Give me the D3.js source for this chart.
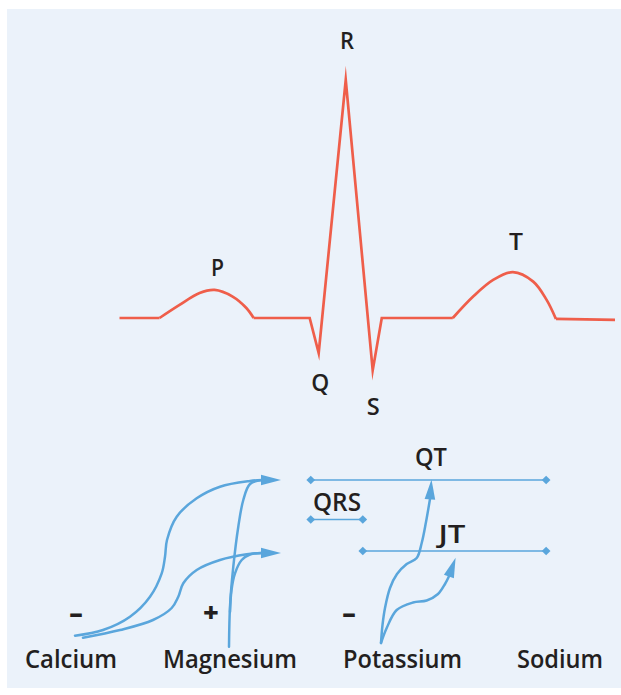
<!DOCTYPE html>
<html><head><meta charset="utf-8">
<script src="https://cdn.jsdelivr.net/npm/d3@7"></script>
<style>html,body{margin:0;padding:0;background:#fff;} svg{display:block;}</style>
</head><body>
<script>
// ---------- DATA ----------
// ECG trace: time (arbitrary units 0..100) and relative voltage (R peak = 1)
const leadT  = [0, 8.08];
const leadV  = [0, 0];
const pWaveT = [8.08, 12.12, 16.16, 19.19, 22.83, 25.6, 27.07];
const pWaveV = [0, 0.055, 0.105, 0.118, 0.09, 0.042, 0];
const qrsT   = [27.07, 38.38, 40.2, 45.66, 51.1, 52.93, 67.27];
const qrsV   = [0, 0, -0.147, 1.0, -0.22, 0, 0];
const tWaveT = [67.27, 71.37, 75.41, 79.4, 83.5, 86.2, 88.08];
const tWaveV = [0, 0.09, 0.16, 0.193, 0.153, 0.076, -0.004];
const tailT  = [88.08, 100];
const tailV  = [-0.004, -0.008];

const waveNames = ["P", "Q", "R", "S", "T"];
const waveLabelT = [19.8, 40.5, 45.9, 51.2, 80.0];

// intervals (same time units)
const intervalNames = ["QT", "QRS", "JT"];
const intervalStart = [38.6, 38.6, 49.1];
const intervalEnd   = [86.1, 49.1, 86.1];

// electrolytes and their effect sign
const electrolytes = ["Calcium", "Magnesium", "Potassium", "Sodium"];
const effectSign   = ["\u2013", "+", "\u2013", ""];

// ---------- LAYOUT ----------
const W = 621, H = 695;
const svg = d3.select("body").append("svg").attr("width", W).attr("height", H);
svg.append("rect").attr("x", 7).attr("y", 9).attr("width", 614).attr("height", 679).attr("fill", "#EBF2FA");

const FONT = "'Open Sans', 'Noto Sans', sans-serif";
const TXT = "#231F20";
const RED = "#EF5E4A";
const BLUE = "#5AA6DC";

const x = d3.scaleLinear().domain([0, 100]).range([119.5, 615]);
const y = d3.scaleLinear().domain([0, 1]).range([318, 80]);

const zip = (a, b) => a.map((d, i) => [d, b[i]]);
const lineLin = d3.line().x(d => x(d[0])).y(d => y(d[1]));
const lineCurve = d3.line().x(d => x(d[0])).y(d => y(d[1])).curve(d3.curveCatmullRom.alpha(0.5));

const ecg = svg.append("g").attr("fill", "none").attr("stroke", RED)
  .attr("stroke-width", 2.7).attr("stroke-linejoin", "miter").attr("stroke-miterlimit", 20);
[[leadT, leadV, lineLin], [pWaveT, pWaveV, lineCurve], [qrsT, qrsV, lineLin],
 [tWaveT, tWaveV, lineCurve], [tailT, tailV, lineLin]].forEach(([t, v, gen]) => {
  ecg.append("path").attr("d", gen(zip(t, v)));
});

// wave labels
const waveLabelBaseline = [276, 391, 49, 415, 250];
const waveLabelW = [13, 18, 14, 13, 14];
svg.append("g").selectAll("text").data(waveNames).join("text")
  .attr("x", (d, i) => x(waveLabelT[i]))
  .attr("y", (d, i) => waveLabelBaseline[i])
  .attr("text-anchor", "middle")
  .attr("textLength", (d, i) => waveLabelW[i]).attr("lengthAdjust", "spacingAndGlyphs")
  .attr("font-family", FONT).attr("font-weight", 600).attr("font-size", 24)
  .attr("fill", TXT).text(d => d);

// intervals
const rowY = [480, 519.5, 551];
const intLabelX = [431, 337, 452];
const intLabelY = [466, 511, 543];
const intLabelW = [32, 48, 27];
const ig = svg.append("g");
intervalNames.forEach((n, i) => {
  ig.append("line").attr("x1", x(intervalStart[i])).attr("x2", x(intervalEnd[i]))
    .attr("y1", rowY[i]).attr("y2", rowY[i]).attr("stroke", BLUE).attr("stroke-width", 1.6);
  [intervalStart[i], intervalEnd[i]].forEach(t => {
    ig.append("path").attr("d", d3.symbol(d3.symbolSquare, 38)())
      .attr("transform", `translate(${x(t)},${rowY[i]}) rotate(45)`).attr("fill", BLUE);
  });
  ig.append("text").attr("x", intLabelX[i]).attr("y", intLabelY[i]).attr("text-anchor", "middle")
    .attr("textLength", intLabelW[i]).attr("lengthAdjust", "spacingAndGlyphs")
    .attr("font-family", FONT).attr("font-weight", 600).attr("font-size", 25)
    .attr("fill", TXT).text(n);
});

// electrolyte labels
const elX = [71, 230, 402.5, 560];
const elW = [92, 134, 119, 86];
svg.append("g").selectAll("text").data(electrolytes).join("text")
  .attr("x", (d, i) => elX[i]).attr("y", 668).attr("text-anchor", "middle")
  .attr("textLength", (d, i) => elW[i]).attr("lengthAdjust", "spacingAndGlyphs")
  .attr("font-family", FONT).attr("font-weight", 600).attr("font-size", 25.5)
  .attr("fill", TXT).text(d => d);
const signX = [76, 211, 349];
svg.append("g").selectAll("text").data(effectSign.filter(s => s)).join("text")
  .attr("x", (d, i) => signX[i]).attr("y", 622).attr("text-anchor", "middle")
  .attr("font-family", FONT).attr("font-weight", 800).attr("font-size", 27)
  .attr("fill", TXT).text(d => d);

// ---------- effect arrows (annotation geometry, page units) ----------
const px = d3.scaleIdentity(), py = d3.scaleIdentity();
const aLine = d3.line().x(d => px(d[0])).y(d => py(d[1])).curve(d3.curveCatmullRom.alpha(0.5));
const arrows = [
  // Calcium (upper)
  [[75,635.7],[103,630],[130,616.7],[150,596.7],[161.7,573.3],[165,556.7],[167,540],[176.7,516.7],[196.7,498.3],[220,486.7],[250,481],[262,480]],
  // Calcium (lower)
  [[83,637.7],[120,630],[153,620],[171.7,608],[178.3,596.7],[183.3,583.3],[196.7,570],[220,560],[246.7,554.3],[262,553]],
  // Magnesium (main)
  [[229,646.7],[230,606.7],[233.3,566.7],[238.3,526.7],[243.3,500],[250,484],[262,480]],
  // Magnesium (branch)
  [[230,612],[231.5,590],[235,573.3],[241.7,560],[250,554.5],[262,553]],
  // Potassium (to QT)
  [[381,643],[382.5,625],[385,608],[390,588],[397,574],[406.7,564],[416.7,558],[421.7,543],[426,522],[430,499]],
  // Potassium (to JT)
  [[381,643],[386.7,628],[396.7,610],[413,602.5],[426.7,600.5],[438,594],[445,584],[449.1,576]]
];
const ag = svg.append("g");
arrows.forEach(a => ag.append("path").attr("d", aLine(a)).attr("fill", "none")
  .attr("stroke", BLUE).attr("stroke-width", 2.5).attr("stroke-linecap", "round"));

const heads = [
  {tip: [281, 480], dir: [1, 0]},
  {tip: [281, 553], dir: [1, 0]},
  {tip: [431.5, 479.5], dir: [0.08, -1]},
  {tip: [455.6, 557.7], dir: [0.335, -0.942]}
];
heads.forEach(h => {
  const L = 20, w = 5.3;
  const n = Math.hypot(h.dir[0], h.dir[1]);
  const ux = h.dir[0] / n, uy = h.dir[1] / n;
  const bx = h.tip[0] - ux * L, by = h.tip[1] - uy * L;
  const pts = [[h.tip[0], h.tip[1]], [bx - uy * w, by + ux * w], [bx + uy * w, by - ux * w]];
  ag.append("path").attr("d", "M" + pts.map(p => [px(p[0]), py(p[1])].join(",")).join("L") + "Z")
    .attr("fill", BLUE);
});
</script>
</body></html>
